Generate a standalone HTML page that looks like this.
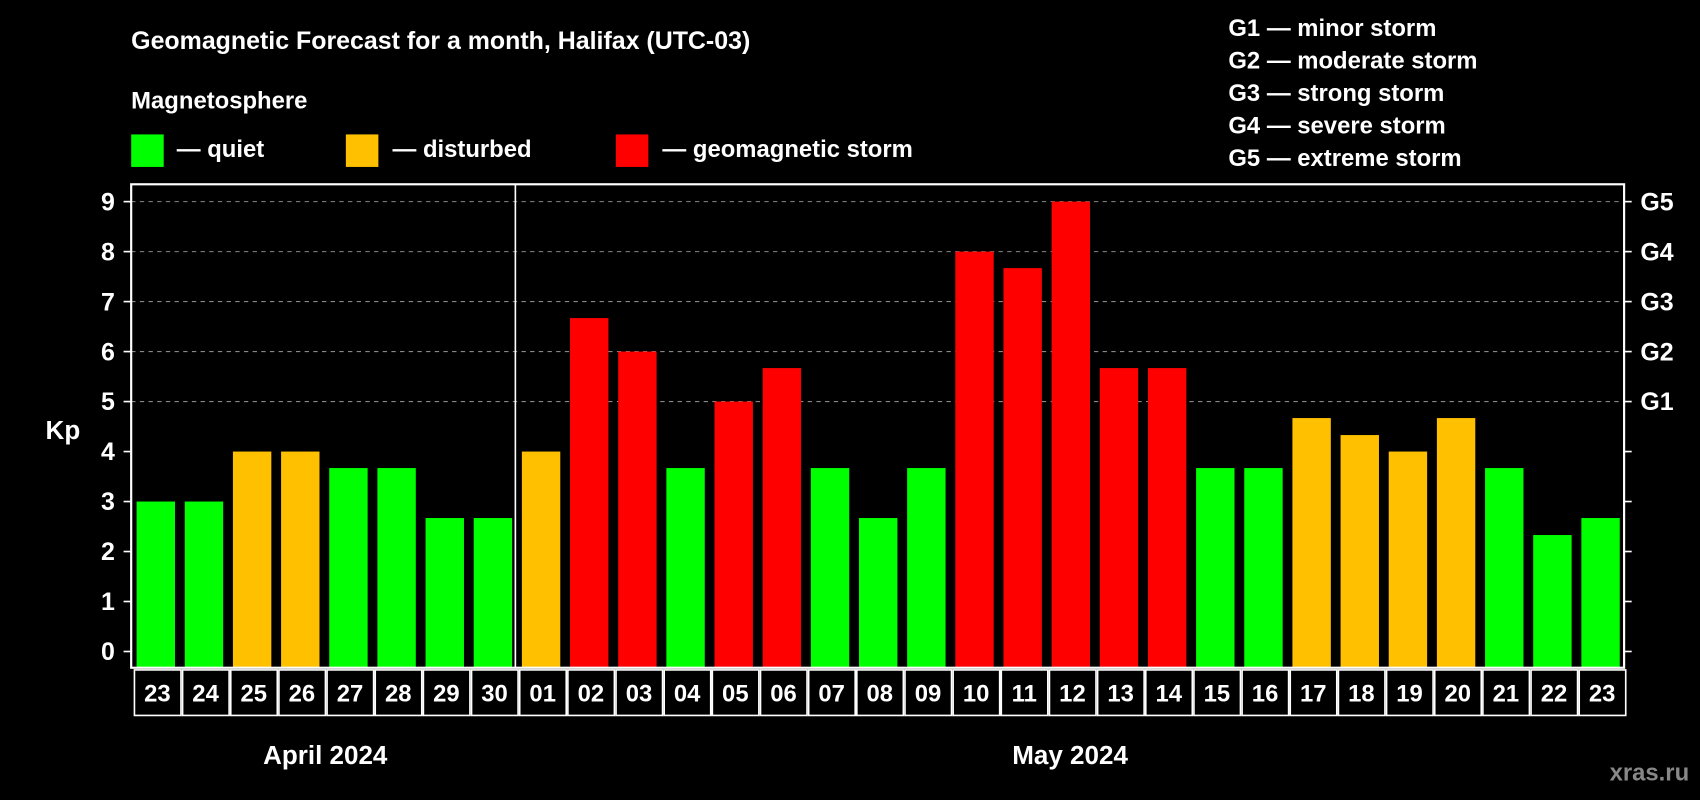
<!DOCTYPE html>
<html><head><meta charset="utf-8"><style>
html,body{margin:0;padding:0;background:#000;}
svg{display:block;font-family:"Liberation Sans",Arial,sans-serif;font-weight:bold;}
</style></head><body>
<svg id="chart" width="1700" height="800" viewBox="0 0 1568 738" preserveAspectRatio="none" xmlns="http://www.w3.org/2000/svg">
<rect x="0" y="0" width="1568" height="738" fill="#000"/>
<text x="121" y="45" fill="#fff" font-size="23">Geomagnetic Forecast for a month, Halifax (UTC-03)</text>
<text x="121" y="100" fill="#fff" font-size="22">Magnetosphere</text>
<rect x="121" y="124" width="30" height="30" fill="#00ff00"/>
<text x="163" y="145" fill="#fff" font-size="22">— quiet</text>
<rect x="319" y="124" width="30" height="30" fill="#ffc000"/>
<text x="362" y="145" fill="#fff" font-size="22">— disturbed</text>
<rect x="568" y="124" width="30" height="30" fill="#ff0000"/>
<text x="611" y="145" fill="#fff" font-size="22">— geomagnetic storm</text>
<g fill="#fff" font-size="22">
<text x="1133" y="33">G1 — minor storm</text>
<text x="1133" y="63">G2 — moderate storm</text>
<text x="1133" y="93">G3 — strong storm</text>
<text x="1133" y="123">G4 — severe storm</text>
<text x="1133" y="153">G5 — extreme storm</text>
</g>
<text x="58" y="405" fill="#fff" font-size="24" text-anchor="middle">Kp</text>
<text x="300" y="705" fill="#fff" font-size="24" text-anchor="middle">April 2024</text>
<text x="987" y="705" fill="#fff" font-size="24" text-anchor="middle">May 2024</text>
<text x="1558" y="720" fill="#888" font-size="22" text-anchor="end">xras.ru</text>
<g id="grid"></g><g id="bars"></g><g id="axes"></g><g id="days"></g>
</svg>
<script>
const days=["23","24","25","26","27","28","29","30","01","02","03","04","05","06","07","08","09","10","11","12","13","14","15","16","17","18","19","20","21","22","23"];
const kp=[3,3,4,4,3.67,3.67,2.67,2.67,4,6.67,6,3.67,5,5.67,3.67,2.67,3.67,8,7.67,9,5.67,5.67,3.67,3.67,4.67,4.33,4,4.67,3.67,2.33,2.67];
const levels=["quiet","quiet","disturbed","disturbed","quiet","quiet","quiet","quiet","disturbed","storm","storm","quiet","storm","storm","quiet","quiet","quiet","storm","storm","storm","storm","storm","quiet","quiet","disturbed","disturbed","disturbed","disturbed","quiet","quiet","quiet"];
const yTicks=[0,1,2,3,4,5,6,7,8,9];
const gLabels=["G1","G2","G3","G4","G5"];
const gValues=[5,6,7,8,9];
const NS="http://www.w3.org/2000/svg";
const colors={quiet:"#00ff00",disturbed:"#ffc000",storm:"#ff0000"};
const L=121,R=1498,T=170,B=616;
const y=v=>601-v*(601-186)/9;
const pitch=(R-L)/days.length;
const x=i=>L+i*pitch;
function mk(tag,attrs,parent){const e=document.createElementNS(NS,tag);for(const k in attrs)e.setAttribute(k,attrs[k]);document.getElementById(parent).appendChild(e);return e;}
gValues.forEach(v=>{const e=mk("line",{x1:L,x2:R,y1:y(v),y2:y(v),stroke:"#888","stroke-dasharray":"4,4","stroke-width":1},"grid");

});
kp.forEach((v,i)=>{const e=mk("rect",{x:x(i)+5,y:y(v),width:pitch-9,height:B-y(v),fill:colors[levels[i]]},"bars");

});
const f=mk("rect",{x:L,y:T,width:R-L,height:B-T,fill:"none",stroke:"#fff","stroke-width":2},"axes");


const sep=mk("line",{x1:x(8)-1,x2:x(8)-1,y1:T,y2:B,stroke:"#fff","stroke-width":1.5},"axes");


yTicks.forEach(v=>{mk("line",{x1:L-7,x2:L,y1:y(v),y2:y(v),stroke:"#fff","stroke-width":1.5},"axes");
mk("line",{x1:R,x2:R+7,y1:y(v),y2:y(v),stroke:"#fff","stroke-width":1.5},"axes");
const t=mk("text",{x:106,y:y(v)+8,fill:"#fff","font-size":23,"text-anchor":"end"},"axes");t.textContent=v;

});
gLabels.forEach((g,i)=>{const t=mk("text",{x:1513,y:y(gValues[i])+8,fill:"#fff","font-size":23},"axes");t.textContent=g;

});
days.forEach((d,i)=>{const c=mk("rect",{x:x(i)+3,y:618,width:pitch-1.5,height:42,fill:"none",stroke:"#fff","stroke-width":1.5},"days");


const t=mk("text",{x:x(i)+pitch/2+2,y:647,fill:"#fff","font-size":22,"text-anchor":"middle"},"days");t.textContent=d;

});
</script>
</body></html>
